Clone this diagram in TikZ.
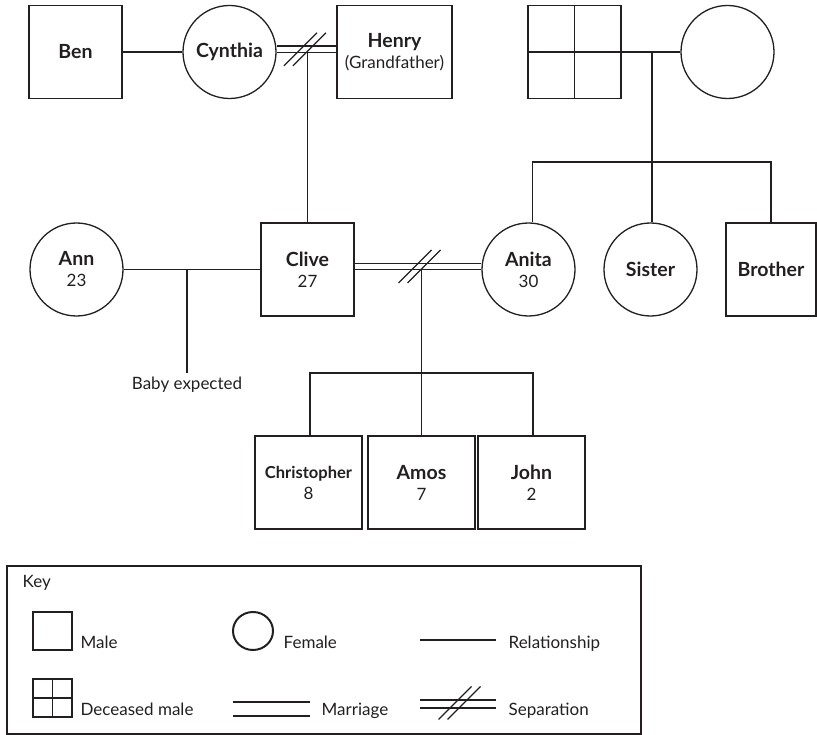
\documentclass[tikz,border=0pt]{standalone}
\usepackage{fontspec}
\setmainfont{Lato}
\usetikzlibrary{positioning,shapes.geometric}
\definecolor{ink}{HTML}{231F20}
\newcommand{\nm}[1]{{\fontsize{19.5}{21}\selectfont\bfseries #1}}

\tikzset{cutmark/.pic={\draw (-21,16.5) -- (12,-16.5) (-12,16.5) -- (21,-16.5);}}

\begin{document}
\begin{tikzpicture}[x=1pt, y=-1pt, line width=1.3pt, draw=ink,
  every node/.style={font=\fontsize{17}{21}\selectfont, align=center, text=ink, inner sep=2pt},
  male/.style={draw, rectangle, minimum width=93pt, minimum height=93pt},
  female/.style={draw, circle, minimum size=93pt},
  child/.style={male, minimum width=107pt},
  dead/.style={male, path picture={\draw[line width=1.3pt]
      (path picture bounding box.north) -- (path picture bounding box.south)
      (path picture bounding box.west) -- (path picture bounding box.east);}},
  marriage/.style={double, double distance=5.2pt},
  keytext/.style={anchor=base west, inner sep=0pt}]
  \useasboundingbox (0,0) rectangle (817,735);
  % people
  \node[male] (ben) at (75.5,52) {\nm{Ben}};
  \node[female] (cynthia) at (229.5,52) {\nm{Cynthia}};
  \node[male, minimum width=115pt] (henry) at (394.5,52) {\nm{Henry}\\(Grandfather)};
  \node[dead] (agrandpa) at (574.5,52) {};
  \node[female] (agrandma) at (727.5,52) {};
  \node[female] (ann) at (76.5,269.5) {\nm{Ann}\\23};
  \node[male] (clive) at (307.5,269.5) {\nm{Clive}\\27};
  \node[female] (anita) at (528.5,269.5) {\nm{Anita}\\30};
  \node[female] (sister) at (650.5,269.5) {\nm{Sister}};
  \node[male, minimum width=90pt] (brother) at (771,269.5) {\nm{Brother}};
  \node[child] (christopher) at (308.5,482.5) {{\fontsize{16.5}{21}\selectfont\bfseries Christopher}\\8};
  \node[child] (amos) at (421.5,482.5) {\nm{Amos}\\7};
  \node[child] (john) at (531.5,482.5) {\nm{John}\\2};
  \node[anchor=north, inner sep=3pt] (baby) at (187,373) {Baby expected};
  % knots
  \coordinate (chknot) at (clive.north |- cynthia.east);
  \coordinate (caknot) at (amos.north |- clive.east);
  \coordinate (gpknot) at ([xshift=1.5pt]sister.north |- agrandpa.east);
  \coordinate (babyknot) at (baby.north |- ann.east);
  \coordinate (kids) at (421.5,373);
  \coordinate (sibs) at (652,162);
  % lines
  \draw (ben) -- (cynthia);
  \draw (agrandpa) -- (agrandma);
  \draw (ann) -- (clive);
  \draw (babyknot) -- (baby);
  \draw (chknot) -- (clive.north);
  \draw (caknot) -- (amos.north);
  \draw ([xshift=1.5pt]christopher.north) |- (kids) -| ([xshift=1.5pt]john.north);
  \draw (gpknot) -- (sibs);
  \draw ([xshift=4pt]anita.north) |- (sibs) -| (brother.north);
  \draw (sibs) -- ([xshift=1.5pt]sister.north);
  \draw[marriage] ([yshift=2.7pt]cynthia.east) -- ([yshift=2.7pt]henry.west);
  \draw[marriage] ([yshift=3pt]clive.east) -- ([yshift=3pt]anita.west);
  \pic at ([xshift=-2.5pt, yshift=2.7pt]chknot) {cutmark};
  \pic at ([xshift=-2pt, yshift=3pt]caknot) {cutmark};
  % key
  \draw (7,566) rectangle (641,734);
  \node[keytext] (keylabel) at (22,587) {Key};
  \node[draw, rectangle, minimum width=39pt, minimum height=38pt, inner sep=0pt] (keymale) at (52.5,631) {};
  \node[keytext] at (80,648) {Male};
  \node[draw, ellipse, line width=2pt, minimum width=40pt, minimum height=38pt, inner sep=0pt] (keyfemale) at (253,631) {};
  \node[keytext] at (283,648) {Female};
  \draw (420,640) -- (496,640);
  \node[keytext] at (508,648) {Relationship};
  \node[dead, minimum width=39pt, minimum height=38pt, inner sep=0pt] (keydead) at (52.5,698) {};
  \node[keytext] at (80,715) {Deceased male};
  \draw (233,702) -- (310,702) (233,716) -- (310,716);
  \node[keytext] at (321,715) {Marriage};
  \draw (420,700) -- (496,700) (420,708) -- (496,708);
  \pic at (459.5,703) {cutmark};
  \node[keytext] at (508,715) {Separation};
\end{tikzpicture}
\end{document}
